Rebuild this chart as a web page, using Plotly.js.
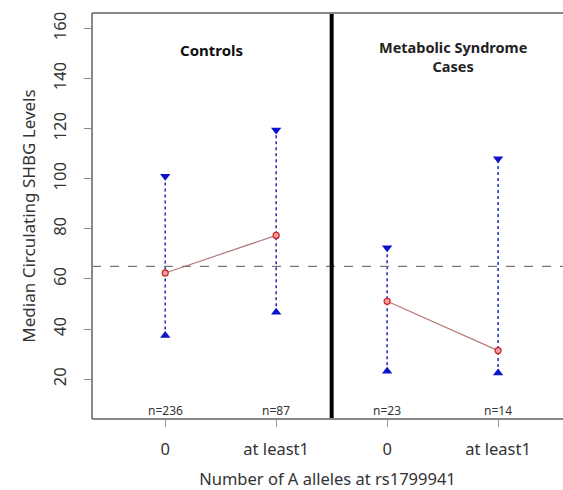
<!DOCTYPE html>
<html>
<head>
<meta charset="utf-8">
<script src="https://cdn.plot.ly/plotly-3.0.1.min.js"></script>
<style>html,body{margin:0;padding:0;background:#fff;}#chart{width:563px;height:490px;}</style>
</head>
<body>
<div id="chart"></div>
<script>
// ---- data ----
var categories = ["0", "at least1", "0", "at least1"];
var groups = ["Controls", "Controls", "Metabolic Syndrome<br>Cases", "Metabolic Syndrome<br>Cases"];
var nLabels = ["n=236", "n=87", "n=23", "n=14"];
var medians = [62.4, 77.4, 51.1, 31.4];
var upperQ = [101, 119.5, 72.5, 108];
var lowerQ = [37.4, 46.7, 23.2, 22.5];
var referenceLine = 65;
var panelTitles = ["Controls", "Metabolic Syndrome<br>Cases"];

// ---- build ----
var xs = categories.map(function(_, i){ return i + 1; });
var traces = [];
xs.forEach(function(x, i){
  traces.push({x:[x,x], y:[lowerQ[i], upperQ[i]], mode:'lines',
    line:{color:'#2a3ab8', width:1.6, dash:'dot'}, hoverinfo:'skip', showlegend:false});
});
traces.push({x:xs, y:upperQ, mode:'markers', marker:{symbol:'triangle-down', size:9, color:'#0a14c8'}, showlegend:false});
traces.push({x:xs, y:lowerQ, mode:'markers', marker:{symbol:'triangle-up', size:9, color:'#0a14c8'}, showlegend:false});
[[0,1],[2,3]].forEach(function(p){
  traces.push({x:[xs[p[0]], xs[p[1]]], y:[medians[p[0]], medians[p[1]]], mode:'lines+markers',
    line:{color:'#b87878', width:1.2},
    marker:{symbol:'circle', size:6, color:'#f4a0a0', line:{color:'#d02a2a', width:1.3}}, showlegend:false});
});

var fam = 'Noto Sans, Liberation Sans, sans-serif';
var annotations = [];
xs.forEach(function(x, i){
  annotations.push({x:x, y:0, xref:'x', yref:'paper', text:nLabels[i], showarrow:false,
    yanchor:'bottom', yshift:-2, font:{family:fam, size:12, color:'#333'}});
});
annotations.push({x:1.42, y:151.6, xref:'x', yref:'y', text:'<b>'+panelTitles[0]+'</b>', showarrow:false,
  font:{family:fam, size:15, color:'#111'}});
annotations.push({x:3.59, y:149, xref:'x', yref:'y', text:'<b>'+panelTitles[1]+'</b>', showarrow:false,
  font:{family:fam, size:14.5, color:'#222'}});

var shapes = [
  {type:'line', xref:'x', yref:'y', x0:0.34, x1:4.6, y0:referenceLine, y1:referenceLine,
   line:{color:'#777', width:1.3, dash:'dash'}},
  {type:'line', xref:'x', yref:'paper', x0:2.5, x1:2.5, y0:0, y1:1, line:{color:'#000', width:4}},
  {type:'line', xref:'paper', yref:'paper', x0:0, x1:1, y0:1, y1:1, line:{color:'#888', width:2}},
  {type:'line', xref:'paper', yref:'paper', x0:0, x1:1, y0:0, y1:0, line:{color:'#888', width:2}},
  {type:'line', xref:'paper', yref:'paper', x0:0, x1:0, y0:0, y1:1, line:{color:'#888', width:2}}
];

var font = {family:fam, size:16.5, color:'#333'};
var layout = {
  width:563, height:490,
  margin:{l:92, r:0, t:13, b:71},
  paper_bgcolor:'#fff', plot_bgcolor:'#fff',
  showlegend:false,
  xaxis:{range:[0.34, 4.585], tickvals:xs, ticktext:categories, ticks:'outside', ticklen:7,
    tickcolor:'#999', showgrid:false, zeroline:false, showline:false, ticklabelstandoff:8,
    tickfont:font, title:{text:'Number of A alleles at rs1799941', font:font, standoff:14}},
  yaxis:{range:[4.1, 166.2], tickvals:[20,40,60,80,100,120,140,160], ticks:'outside', ticklen:7,
    tickcolor:'#888', tickangle:-90, showgrid:false, zeroline:false, showline:false, ticklabelstandoff:11,
    tickfont:font, title:{text:'Median Circulating SHBG Levels', font:{family:fam, size:17, color:'#333'}, standoff:8}},
  shapes:shapes, annotations:annotations
};
Plotly.newPlot('chart', traces, layout, {displayModeBar:false, staticPlot:true});
</script>
</body>
</html>
